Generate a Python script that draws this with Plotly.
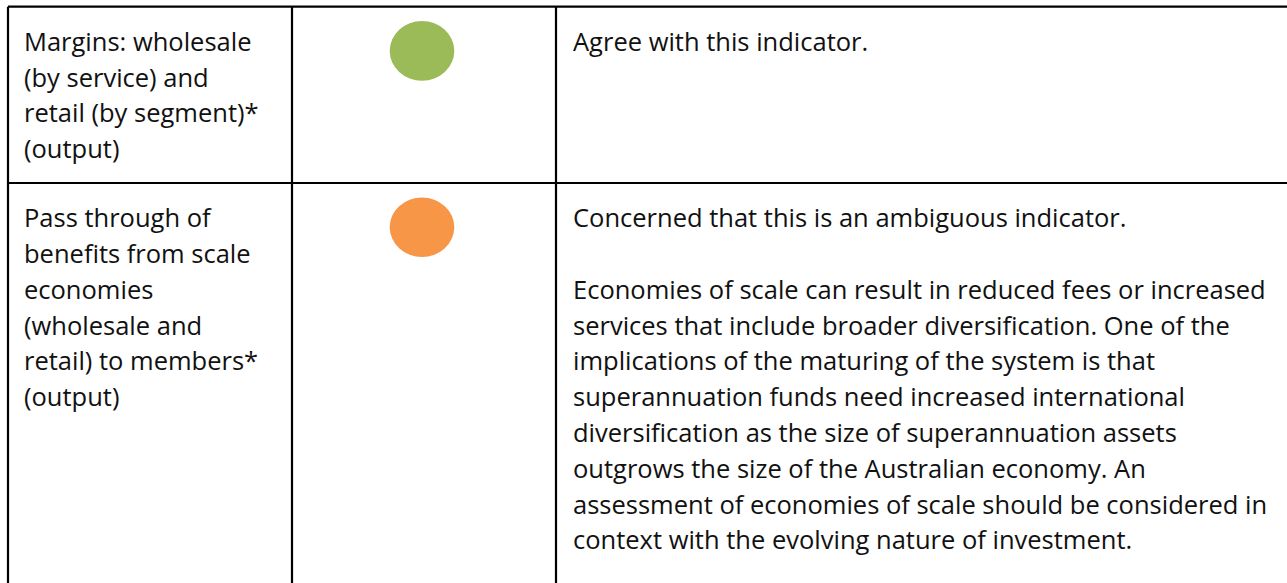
import plotly.graph_objects as go

# ---- data ----
indicator_lines = [
    ["Margins: wholesale", "(by service) and", "retail (by segment)*", "(output)"],
    ["Pass through of", "benefits from scale", "economies", "(wholesale and",
     "retail) to members*", "(output)"],
]
rating_colors = ["#9BBB59", "#F79646"]
comment_lines = [
    ["Agree with this indicator."],
    ["Concerned that this is an ambiguous indicator.",
     "",
     "Economies of scale can result in reduced fees or increased",
     "services that include broader diversification. One of the",
     "implications of the maturing of the system is that",
     "superannuation funds need increased international",
     "diversification as the size of superannuation assets",
     "outgrows the size of the Australian economy. An",
     "assessment of economies of scale should be considered in",
     "context with the evolving nature of investment."],
]

# ---- layout geometry (pixels) ----
W, H = 1287, 583
table_left, col1, col2 = 8, 292, 556
table_top = 6.7
row_tops = [6.7, 183]
text_x = [23, 572]
circle_cx = 422
circle_rx, circle_ry = 32.3, 29.8
circle_dy = 44.2
first_baseline = 43.3
line_h = 35.8
FONT = "Open Sans"
FSIZE = 25.5
TEXT_COLOR = "#111111"
baseline_to_mid = 9.2

fig = go.Figure()
fig.add_trace(go.Scatter(x=[0, W], y=[0, H], mode="markers",
                         marker=dict(opacity=0), hoverinfo="skip", showlegend=False))

shapes = []
line = dict(color="black", width=2.2)
shapes.append(dict(type="line", x0=table_left, x1=W + 5, y0=table_top, y1=table_top, line=line))
shapes.append(dict(type="line", x0=table_left, x1=W + 5, y0=row_tops[1], y1=row_tops[1], line=line))
for xv in (table_left, col1, col2):
    shapes.append(dict(type="line", x0=xv, x1=xv, y0=table_top, y1=H + 5, line=line))

annotations = []
for r, top in enumerate(row_tops):
    cy = top + circle_dy
    shapes.append(dict(type="circle", x0=circle_cx - circle_rx, x1=circle_cx + circle_rx,
                       y0=cy - circle_ry, y1=cy + circle_ry,
                       fillcolor=rating_colors[r], line=dict(width=0)))
    base0 = top + first_baseline
    for cx, lines in ((text_x[0], indicator_lines[r]), (text_x[1], comment_lines[r])):
        for i, t in enumerate(lines):
            if not t:
                continue
            annotations.append(dict(
                x=cx, y=base0 + i * line_h - baseline_to_mid, xref="x", yref="y",
                text=t, showarrow=False, xanchor="left", yanchor="middle",
                font=dict(family=FONT, size=FSIZE, color=TEXT_COLOR), borderpad=0))

fig.update_layout(
    width=W, height=H, margin=dict(l=0, r=0, t=0, b=0),
    paper_bgcolor="white", plot_bgcolor="white",
    xaxis=dict(range=[0, W], visible=False, fixedrange=True),
    yaxis=dict(range=[H, 0], visible=False, fixedrange=True),
    shapes=shapes, annotations=annotations, showlegend=False,
)
fig.write_html("out.html", config={"displayModeBar": False},
               post_script="document.body.style.margin='0';document.body.style.overflow='hidden';")
